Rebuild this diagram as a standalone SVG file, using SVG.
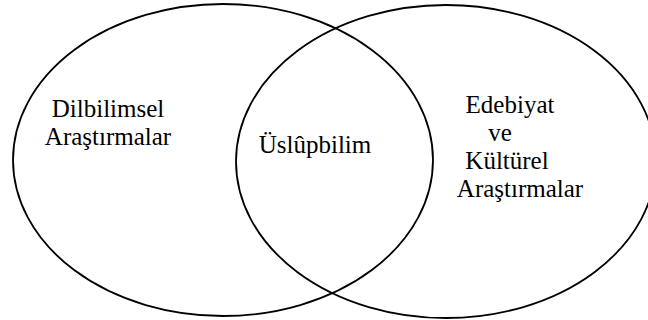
<svg xmlns="http://www.w3.org/2000/svg" width="648" height="320" viewBox="0 0 648 320">
<style>
.c{fill:none;stroke:#000;stroke-width:1.8}
text{font-family:'Liberation Serif','Times New Roman','DejaVu Serif',serif;font-size:25px;fill:#000;text-anchor:middle}
</style>
<rect width="648" height="320" fill="#fff"/>
<g id="left">
<ellipse class="c" cx="223" cy="160" rx="210" ry="156"/>
<text x="108" y="117">Dilbilimsel</text>
<text x="108" y="145">Araştırmalar</text>
</g>
<g id="right">
<ellipse class="c" cx="446" cy="161.5" rx="210" ry="156.5"/>
<text x="510" y="113">Edebiyat</text>
<text x="500" y="141">ve</text>
<text x="507" y="169">Kültürel</text>
<text x="520" y="197">Araştırmalar</text>
</g>
<g id="center">
<text x="315" y="153">Üslûpbilim</text>
</g>
<g id="connectors"></g>
</svg>
